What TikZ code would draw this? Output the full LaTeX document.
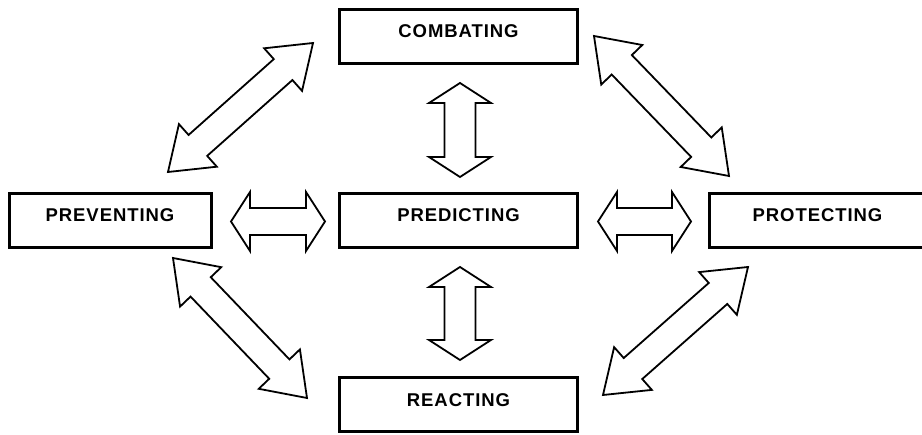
\documentclass[tikz,border=0pt]{standalone}
\usepackage{fontspec}
\newfontfamily\labelfont{Liberation Sans}[LetterSpace=5]
\usetikzlibrary{calc,
	positioning}

\tikzset{
	stagebox/.style={draw=black, line width=3pt, fill=white, inner sep=0pt,
		minimum height=54pt, text height=13pt, text depth=10.8pt,
		font=\labelfont\bfseries\fontsize{18.5}{21}\selectfont},
	blockarrow/.style={draw=black, line width=1.8pt, fill=white, line join=miter, miter limit=10}
}

% #1, #2: tips, #3: head length, #4: half head width, #5: half shaft width
\newcommand{\dblarrow}[5]{
	\coordinate (h1) at ($(#1)!#3!(#2)$);
	\coordinate (h2) at ($(#2)!#3!(#1)$);
	\draw[blockarrow] (#1) -- ($(h1)!#4!90:(#2)$) -- ($(h1)!#5!90:(#2)$)
		-- ($(h2)!#5!-90:(#1)$) -- ($(h2)!#4!-90:(#1)$) -- (#2)
		-- ($(h2)!#4!90:(#1)$) -- ($(h2)!#5!90:(#1)$)
		-- ($(h1)!#5!-90:(#2)$) -- ($(h1)!#4!-90:(#2)$) -- cycle;
}

\begin{document}
\begin{tikzpicture}[x=1pt, y=-1pt]
	\useasboundingbox (0,0) rectangle (922,435);
	\clip (0,0) rectangle (922,435);
	% Boxes
	\node[stagebox, minimum width=238pt] (combating) at (458.5,36.5) {COMBATING};
	\node[stagebox, minimum width=202pt] (preventing) at (110,220.5) {PREVENTING};
	\node[stagebox, minimum width=238pt] (predicting) at (458.5,220.5) {PREDICTING};
	\node[stagebox, minimum width=217pt] (protecting) at (817.5,220.5) {PROTECTING};
	\node[stagebox, minimum width=238pt] (reacting) at (458.5,405) {REACTING};
	% Arrow tips
	\coordinate (pc-a) at (168,172);  \coordinate (pc-b) at (313,43);
	\coordinate (ct-a) at (594,36);   \coordinate (ct-b) at (729,176);
	\coordinate (pr-a) at (173,258);  \coordinate (pr-b) at (307,398);
	\coordinate (tr-a) at (748,267);  \coordinate (tr-b) at (603,395);
	\coordinate (cd-a) at (460,83);   \coordinate (cd-b) at (460,177);
	\coordinate (dr-a) at (460,267);  \coordinate (dr-b) at (460,360);
	\coordinate (vd-a) at (231,221.5);\coordinate (vd-b) at (325,221.5);
	\coordinate (dt-a) at (598,221.5);\coordinate (dt-b) at (691,221.5);
	% Diagonal arrows
	\foreach \a in {pc,ct,pr,tr} {
		\dblarrow{\a-a}{\a-b}{40pt}{28.5pt}{14pt}
	}
	% Straight arrows
	\foreach \a in {cd,dr} {
		\dblarrow{\a-a}{\a-b}{20pt}{31pt}{15.5pt}
	}
	\foreach \a in {vd,dt} {
		\dblarrow{\a-a}{\a-b}{19pt}{29.5pt}{13.5pt}
	}
\end{tikzpicture}
\end{document}
